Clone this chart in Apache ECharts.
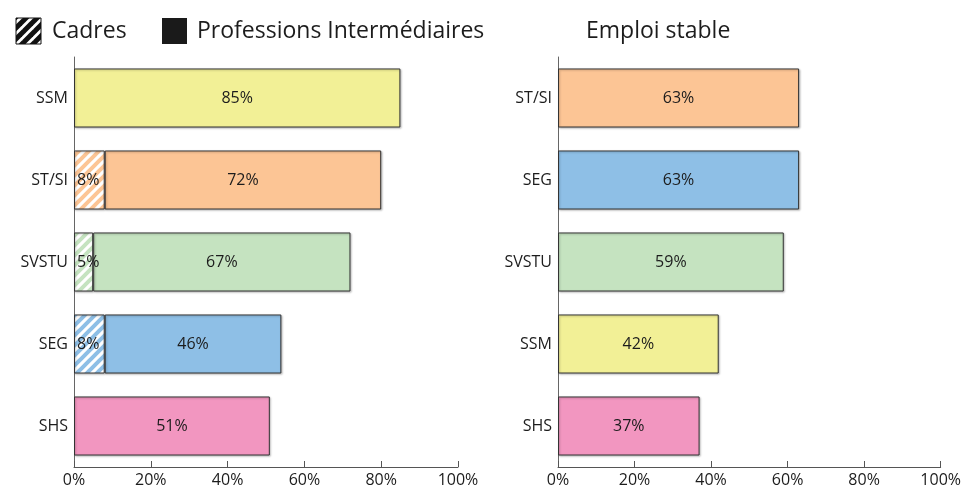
<!DOCTYPE html>
<html>
<head>
<meta charset="utf-8">
<script src="https://cdn.jsdelivr.net/npm/echarts@6/dist/echarts.min.js"></script>
<style>html,body{margin:0;padding:0;background:#fff;}#c{width:964px;height:491px;}</style>
</head>
<body>
<div id="c"></div>
<script>
// ---- data ----
const leftCategories = ['SSM', 'ST/SI', 'SVSTU', 'SEG', 'SHS'];
const cadres = [null, 8, 5, 8, null];
const professions = [85, 72, 67, 46, 51];
const rightCategories = ['ST/SI', 'SEG', 'SVSTU', 'SSM', 'SHS'];
const emploiStable = [63, 63, 59, 42, 37];
const xTickValues = [0, 20, 40, 60, 80, 100];

const catColors = {
  'SSM': '#f2f096',
  'ST/SI': '#fcc595',
  'SVSTU': '#c5e3c0',
  'SEG': '#8ebfe6',
  'SHS': '#f296c0'
};
const FONT = 'Open Sans';
const TXT = '#1c1c1c';

function hatch(color, bg, lw, size) {
  const c = document.createElement('canvas');
  c.width = size; c.height = size;
  const g = c.getContext('2d');
  g.fillStyle = bg; g.fillRect(0, 0, size, size);
  g.strokeStyle = color; g.lineWidth = lw; g.lineCap = 'square';
  for (let k = -1; k <= 1; k++) {
    g.beginPath();
    g.moveTo(k * size - 1, size + 1);
    g.lineTo(k * size + size + 1, -1);
    g.stroke();
  }
  return c;
}

const shadow = {shadowBlur: 2, shadowColor: 'rgba(0,0,0,0.25)', shadowOffsetX: 1, shadowOffsetY: 1};
const border = {borderColor: '#333', borderWidth: 1};

const labelStyle = {show: true, color: TXT, fontSize: 16, fontFamily: FONT, formatter: p => p.value + '%'};

const cadresData = cadres.map((v, i) => v == null ? null : ({
  value: v,
  itemStyle: Object.assign({color: {image: hatch(catColors[leftCategories[i]], '#ffffff', 4, 10), repeat: 'repeat'}}, border, shadow)
}));
const profData = professions.map((v, i) => ({
  value: v,
  itemStyle: Object.assign({color: catColors[leftCategories[i]]}, border, shadow)
}));
const rightData = emploiStable.map((v, i) => ({
  value: v,
  itemStyle: Object.assign({color: catColors[rightCategories[i]]}, border, shadow)
}));

function xAxis(gi) {
  return {
    type: 'value', gridIndex: gi, min: 0, max: 100, interval: 20,
    axisLine: {show: true, lineStyle: {color: '#555', width: 1}},
    axisTick: {show: true, inside: true, length: 6, lineStyle: {color: '#555'}},
    splitLine: {show: false},
    axisLabel: {color: TXT, fontSize: 16, fontFamily: FONT, margin: 5,
      formatter: v => xTickValues.indexOf(v) >= 0 ? v + '%' : ''}
  };
}
function yAxis(gi, cats) {
  return {
    type: 'category', gridIndex: gi, data: cats, inverse: true,
    axisLine: {show: true, lineStyle: {color: '#666', width: 1}},
    axisTick: {show: false},
    axisLabel: {color: TXT, fontSize: 16, fontFamily: FONT, margin: 6}
  };
}

const chart = echarts.init(document.getElementById('c'), null, {renderer: 'canvas'});
chart.setOption({
  animation: false,
  backgroundColor: '#fff',
  grid: [
    {left: 74, top: 57, width: 384, bottom: 24},
    {left: 558, top: 57, width: 385, bottom: 24}
  ],
  xAxis: [xAxis(0), xAxis(1)],
  yAxis: [yAxis(0, leftCategories), yAxis(1, rightCategories)],
  series: [
    {name: 'Cadres', type: 'bar', stack: 'a', xAxisIndex: 0, yAxisIndex: 0,
     barCategoryGap: '28%', data: cadresData,
     label: Object.assign({}, labelStyle, {position: 'insideLeft', offset: [-2, 0]})},
    {name: 'Professions Intermédiaires', type: 'bar', stack: 'a', xAxisIndex: 0, yAxisIndex: 0,
     barCategoryGap: '28%', data: profData,
     label: Object.assign({}, labelStyle, {position: 'inside'})},
    {name: 'Emploi stable', type: 'bar', xAxisIndex: 1, yAxisIndex: 1,
     barCategoryGap: '28%', data: rightData,
     label: Object.assign({}, labelStyle, {position: 'inside'})}
  ],
  graphic: [
    {type: 'rect', shape: {x: 16, y: 18, width: 25, height: 26},
     style: {fill: {image: hatch('#111', '#fff', 5, 11), repeat: 'repeat'}, stroke: '#111', lineWidth: 1}},
    {type: 'text', x: 52, y: 31, style: {text: 'Cadres', fontSize: 23, fontFamily: FONT, fill: TXT, textVerticalAlign: 'middle', verticalAlign: 'middle'}},
    {type: 'rect', shape: {x: 162, y: 18, width: 25, height: 26}, style: {fill: '#1a1a1a'}},
    {type: 'text', x: 197, y: 31, style: {text: 'Professions Intermédiaires', fontSize: 23, fontFamily: FONT, fill: TXT, textVerticalAlign: 'middle', verticalAlign: 'middle'}},
    {type: 'text', x: 586, y: 31, style: {text: 'Emploi stable', fontSize: 23, fontFamily: FONT, fill: TXT, textVerticalAlign: 'middle', verticalAlign: 'middle'}}
  ]
});
</script>
</body>
</html>
